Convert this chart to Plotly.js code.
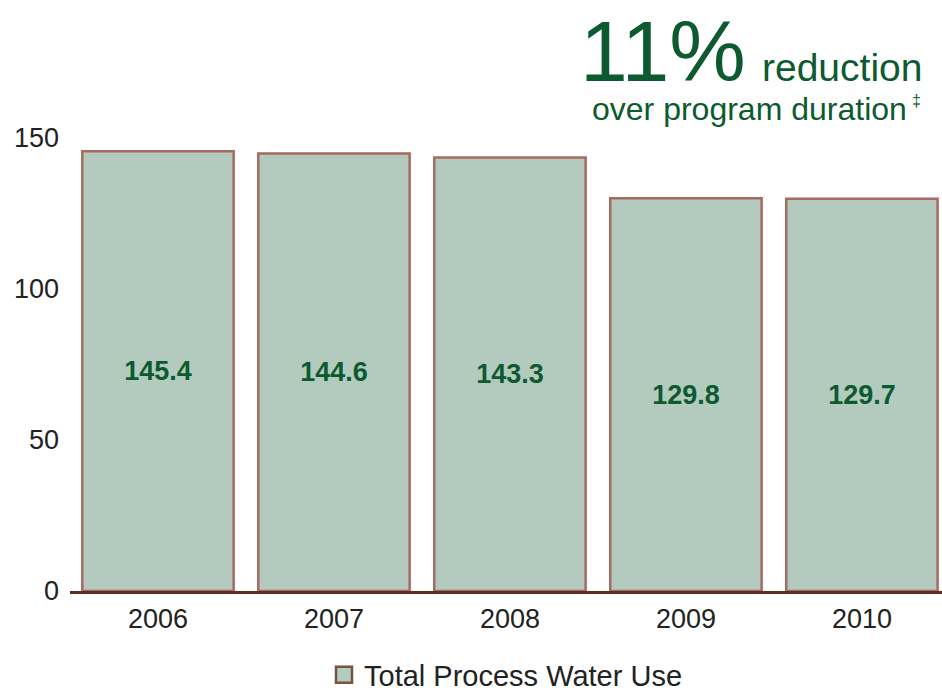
<!DOCTYPE html>
<html><head><meta charset="utf-8">
<script src="https://cdn.plot.ly/plotly-3.0.1.min.js"></script>
<style>body{margin:0;padding:0;background:#fff}#chart{width:942px;height:692px}</style>
</head><body><div id="chart"></div>
<script>
const years = ['2006','2007','2008','2009','2010'];
const waterUse = [145.4, 144.6, 143.3, 129.8, 129.7];
const seriesName = 'Total Process Water Use';
const yTicks = [0, 50, 100, 150];

const fillColor = '#b3cbbf', edgeColor = '#a86a5e';

const trace = {
  type: 'bar', x: years, y: waterUse, name: seriesName,
  text: waterUse.map(v => v.toFixed(1)), textposition: 'inside', insidetextanchor: 'middle',
  textfont: {family: 'Liberation Sans, Arial, sans-serif', size: 27, color: '#0d5a30', weight: 'bold'},
  marker: {color: fillColor, line: {color: edgeColor, width: 2.5}},
  showlegend: false, hoverinfo: 'none'
};
// legend entry for the bar series, drawn with a larger square swatch
const legendProxy = {
  type: 'scatter', mode: 'markers', x: [null], y: [null], name: seriesName,
  marker: {symbol: 'square', size: 22, color: fillColor, line: {color: '#7a5040', width: 2.5}},
  showlegend: true, hoverinfo: 'none'
};

const T = 107, B = 591, PH = B - T, L = 70, PW = 872;
const px = x => (x - L) / PW;
const py = y => (B - y) / PH;

const layout = {
  width: 942, height: 692,
  margin: {l: L, r: 0, t: T, b: 692 - B, autoexpand: false},
  paper_bgcolor: '#fff', plot_bgcolor: '#fff',
  font: {family: 'Liberation Sans, Arial, sans-serif', color: '#222', size: 20},
  bargap: 0.14,
  xaxis: {type: 'category', range: [-0.5, 4.455], showline: true, linecolor: '#5b2e1f', linewidth: 3,
          showgrid: false, zeroline: false, ticks: '', ticklabelstandoff: 2, automargin: false,
          tickfont: {size: 27, color: '#222'}, fixedrange: true},
  yaxis: {range: [0, 160], tickvals: yTicks, showgrid: false, zeroline: false, showline: false,
          ticks: '', ticklabelstandoff: 10, automargin: false,
          tickfont: {size: 27, color: '#222'}, fixedrange: true},
  showlegend: true,
  legend: {orientation: 'h', x: 0.5, xanchor: 'center', y: py(675), yanchor: 'middle',
           font: {size: 29, color: '#222'}},
  annotations: [
    {xref: 'paper', yref: 'paper', x: px(748), y: py(51), xanchor: 'right', yanchor: 'middle',
     height: 70, valign: 'middle',
     text: '11%', showarrow: false, font: {size: 86, color: '#0d5a30'}},
    {xref: 'paper', yref: 'paper', x: px(924), y: py(67), xanchor: 'right', yanchor: 'middle',
     text: 'reduction', showarrow: false, font: {size: 39, color: '#0d5a30'}},
    {xref: 'paper', yref: 'paper', x: px(909), y: py(109), xanchor: 'right', yanchor: 'middle',
     text: 'over program duration', showarrow: false, font: {size: 32, color: '#0d5a30'}},
    {xref: 'paper', yref: 'paper', x: px(910), y: py(101), xanchor: 'left', yanchor: 'middle',
     text: '‡', showarrow: false, font: {size: 16, color: '#0d5a30'}}
  ]
};

Plotly.newPlot('chart', [trace, legendProxy], layout, {displayModeBar: false, staticPlot: true});
</script></body></html>
